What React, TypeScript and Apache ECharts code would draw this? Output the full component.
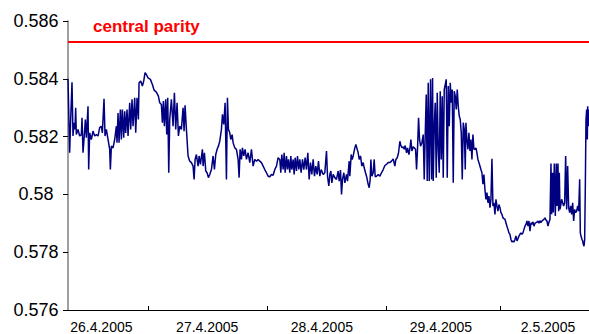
import React, { useEffect, useRef } from "react";
import * as echarts from "echarts";

// x = minutes of trading time since the first quote, y = CYP/EUR rate
const APR26: [number, number][] = [
  [0, 0.584], [20, 0.58144], [32, 0.58259], [48, 0.58388], [60, 0.58202], [72, 0.58248], [84, 0.58225], [92, 0.583], [100, 0.58207], [120, 0.58225], [140, 0.58202], [160, 0.58207], [168, 0.58265], [180, 0.58144], [192, 0.5819], [208, 0.58259], [220, 0.58196], [240, 0.58305], [248, 0.58086], [260, 0.58213], [280, 0.5819], [300, 0.58219], [320, 0.58202], [340, 0.58207], [360, 0.58202], [380, 0.58231], [400, 0.58236], [412, 0.58213], [432, 0.58331], [444, 0.58202], [460, 0.58225], [480, 0.5819], [500, 0.58156], [508, 0.58086], [520, 0.58167], [540, 0.58161], [560, 0.5819], [580, 0.58236], [588, 0.58179], [600, 0.58282], [612, 0.58179], [628, 0.58294], [640, 0.5819], [652, 0.58294], [668, 0.58196], [680, 0.58288], [692, 0.58213], [708, 0.58294], [720, 0.58202], [740, 0.58317], [752, 0.58225], [768, 0.58329], [780, 0.58236], [800, 0.58334], [812, 0.58213], [828, 0.58334], [844, 0.58259], [852, 0.58386], [872, 0.58392], [892, 0.58375], [908, 0.58392], [924, 0.58421], [940, 0.58415], [960, 0.58403],
];
const APR27: [number, number][] = [
  [988, 0.58398], [1012, 0.5838], [1032, 0.58361], [1060, 0.58354], [1084, 0.5834], [1100, 0.58317], [1120, 0.58311], [1132, 0.58248], [1144, 0.58323], [1156, 0.58236], [1172, 0.58329], [1184, 0.58207], [1196, 0.58334], [1208, 0.58075], [1220, 0.58259], [1240, 0.58329], [1260, 0.58236], [1276, 0.58352], [1292, 0.58225], [1308, 0.58317], [1324, 0.58202], [1340, 0.58236], [1360, 0.58225], [1380, 0.583], [1392, 0.58219], [1404, 0.58308], [1420, 0.58225], [1440, 0.58133], [1460, 0.58115], [1480, 0.5811], [1500, 0.58098], [1512, 0.58052], [1524, 0.58121], [1540, 0.58138], [1560, 0.58098], [1572, 0.58133], [1588, 0.58104], [1612, 0.58156], [1620, 0.58098], [1636, 0.58144], [1652, 0.58081], [1668, 0.58075], [1684, 0.58058], [1700, 0.58069], [1720, 0.58086], [1740, 0.58133], [1756, 0.58086], [1772, 0.58138], [1788, 0.58156], [1804, 0.58167], [1820, 0.58184], [1840, 0.58225], [1852, 0.58277], [1868, 0.58242], [1884, 0.58317], [1900, 0.58052], [1912, 0.58334], [1924, 0.58225], [1940, 0.58213], [1952, 0.5819], [1968, 0.58207], [1980, 0.58179], [2000, 0.58161], [2020, 0.58156], [2040, 0.58121], [2052, 0.58058], [2064, 0.58156], [2080, 0.58121], [2092, 0.58161], [2108, 0.58133], [2124, 0.58156], [2140, 0.58121], [2160, 0.58144], [2180, 0.5811], [2200, 0.58156], [2220, 0.58098], [2240, 0.58121], [2260, 0.58115], [2280, 0.58121], [2300, 0.58115], [2320, 0.5811], [2340, 0.58098], [2360, 0.58086], [2380, 0.58075],
];
const APR28: [number, number][] = [
  [2400, 0.58063], [2420, 0.58061], [2440, 0.58069], [2460, 0.58066], [2480, 0.58086], [2500, 0.58098], [2520, 0.58127], [2540, 0.58121], [2552, 0.58075], [2564, 0.58138], [2580, 0.58086], [2592, 0.58144], [2604, 0.58075], [2620, 0.58133], [2632, 0.58086], [2644, 0.58121], [2660, 0.58075], [2672, 0.58133], [2684, 0.58086], [2700, 0.58121], [2712, 0.58069], [2724, 0.58127], [2740, 0.58081], [2752, 0.58133], [2768, 0.58086], [2780, 0.58121], [2796, 0.58075], [2812, 0.58121], [2828, 0.58086], [2844, 0.58127], [2860, 0.58086], [2876, 0.58144], [2892, 0.58052], [2908, 0.5811], [2924, 0.58069], [2940, 0.58121], [2956, 0.58063], [2972, 0.58098], [2988, 0.58069], [3004, 0.58115], [3020, 0.58063], [3036, 0.58086], [3060, 0.58069], [3080, 0.58075], [3100, 0.5815], [3112, 0.58063], [3128, 0.58029], [3140, 0.58069], [3152, 0.58081], [3164, 0.5804], [3180, 0.58069], [3200, 0.58058], [3220, 0.58052], [3240, 0.58081], [3252, 0.58046], [3268, 0.58084], [3280, 0.58], [3292, 0.58052], [3308, 0.58075], [3320, 0.5804], [3340, 0.58069], [3352, 0.58046], [3372, 0.58115], [3380, 0.58063], [3396, 0.58138], [3408, 0.58121], [3420, 0.58133], [3440, 0.58161], [3452, 0.58173], [3468, 0.58156], [3480, 0.58144], [3492, 0.58121], [3508, 0.58133], [3524, 0.58098], [3540, 0.5811], [3552, 0.58092], [3568, 0.58075], [3580, 0.58063], [3600, 0.58035], [3612, 0.58023], [3624, 0.58052], [3632, 0.58121], [3644, 0.58063], [3660, 0.58075], [3672, 0.58121], [3684, 0.58061], [3700, 0.58063], [3720, 0.58069], [3740, 0.58063], [3760, 0.58075], [3780, 0.58086], [3800, 0.581],
];
const APR29: [number, number][] = [
  [3820, 0.58104], [3840, 0.5811], [3860, 0.5811], [3880, 0.58115], [3900, 0.58123], [3920, 0.58098], [3932, 0.58121], [3948, 0.58127], [3964, 0.58144], [3980, 0.58184], [3992, 0.58169], [4008, 0.58161], [4020, 0.58165], [4032, 0.58156], [4044, 0.58169], [4060, 0.58144], [4072, 0.58161], [4088, 0.58138], [4100, 0.58158], [4112, 0.5819], [4124, 0.5815], [4140, 0.58165], [4152, 0.58161], [4168, 0.58156], [4180, 0.58086], [4192, 0.58161], [4204, 0.58265], [4216, 0.5819], [4228, 0.58167], [4244, 0.58179], [4260, 0.58207], [4272, 0.58052], [4284, 0.58207], [4296, 0.58346], [4308, 0.58046], [4320, 0.58386], [4332, 0.58046], [4348, 0.58398], [4360, 0.58052], [4372, 0.58403], [4380, 0.58046], [4392, 0.58236], [4404, 0.58317], [4416, 0.58058], [4428, 0.58352], [4440, 0.58156], [4452, 0.58075], [4464, 0.58357], [4476, 0.58121], [4488, 0.5834], [4500, 0.58058], [4512, 0.58363], [4524, 0.5838], [4536, 0.58398], [4548, 0.58058], [4560, 0.58375], [4572, 0.58236], [4584, 0.58386], [4596, 0.58317], [4608, 0.58363], [4620, 0.5804], [4632, 0.58357], [4644, 0.5834], [4656, 0.58294], [4668, 0.58363], [4680, 0.58305], [4692, 0.58271], [4704, 0.58259], [4716, 0.58213], [4728, 0.58052], [4740, 0.58248], [4752, 0.58225], [4764, 0.58086], [4772, 0.58248], [4784, 0.5819], [4796, 0.58156], [4808, 0.58213], [4820, 0.5815], [4832, 0.5819], [4844, 0.58121], [4856, 0.58207], [4868, 0.58156], [4880, 0.58156], [4892, 0.58161], [4904, 0.58144], [4916, 0.58121], [4928, 0.5811], [4940, 0.58098], [4952, 0.58086], [4964, 0.58075], [4976, 0.58035], [4988, 0.58069], [5000, 0.58017], [5012, 0.57983], [5024, 0.58006], [5036, 0.57971], [5048, 0.57994], [5060, 0.57954], [5072, 0.57983], [5084, 0.58123], [5096, 0.5796], [5108, 0.57971], [5120, 0.57931], [5132, 0.57983], [5144, 0.5796], [5156, 0.57942], [5168, 0.57965], [5180, 0.57954],
];
const MAY2: [number, number][] = [
  [5192, 0.57937], [5204, 0.57931], [5216, 0.57919], [5228, 0.57916], [5240, 0.57914], [5252, 0.57902], [5264, 0.5789], [5276, 0.57879], [5288, 0.57867], [5300, 0.57862], [5312, 0.57844], [5324, 0.57835], [5336, 0.57839], [5348, 0.57835], [5360, 0.57844], [5372, 0.57856], [5384, 0.57839], [5396, 0.57847], [5408, 0.57856], [5420, 0.57862], [5432, 0.57867], [5444, 0.57862], [5456, 0.57867], [5468, 0.57879], [5480, 0.5789], [5492, 0.57896], [5504, 0.57908], [5516, 0.5789], [5528, 0.57908], [5540, 0.57873], [5552, 0.57902], [5564, 0.57896], [5576, 0.57905], [5588, 0.5789], [5600, 0.579], [5612, 0.57902], [5624, 0.57904], [5636, 0.57908], [5648, 0.579], [5660, 0.57909], [5672, 0.57902], [5684, 0.57908], [5696, 0.57911], [5708, 0.57914], [5720, 0.57919], [5732, 0.57911], [5744, 0.57908], [5756, 0.5789], [5768, 0.57904], [5780, 0.57914], [5792, 0.58107], [5800, 0.57931], [5812, 0.58075], [5820, 0.57937], [5832, 0.58107], [5844, 0.57925], [5856, 0.58107], [5864, 0.5796], [5876, 0.58107], [5884, 0.57942], [5892, 0.58075], [5900, 0.57948], [5908, 0.5796], [5920, 0.57983], [5932, 0.57971], [5944, 0.5796], [5956, 0.57971], [5968, 0.58133], [5980, 0.57948], [5992, 0.58098], [6004, 0.57954], [6016, 0.57937], [6028, 0.5796], [6040, 0.57931], [6052, 0.57971], [6064, 0.57908], [6076, 0.57948], [6088, 0.57937], [6100, 0.57942], [6112, 0.5796], [6124, 0.57942], [6136, 0.58052], [6144, 0.57867], [6152, 0.57856], [6164, 0.57844], [6172, 0.57839], [6180, 0.57827], [6188, 0.57821], [6196, 0.57844], [6204, 0.58029], [6212, 0.58259], [6220, 0.58294], [6228, 0.5819], [6232, 0.58305], [6240, 0.58236], [6248, 0.58294],
];

const CENTRAL_PARITY = 0.585274;
const CENTRAL_PARITY_LABEL = "central parity";
const DAY_LABELS = ["26.4.2005", "27.4.2005", "28.4.2005", "29.4.2005", "2.5.2005"];
const DAY_LABEL_AT = [400, 1670, 3044, 4472, 5756];
const DAY_BOUNDARIES = [960, 2388, 3820, 5184];
const SPAN_START = 0;
const SPAN_END = 6248;
const Y_MIN = 0.576;
const Y_MAX = 0.586;
const Y_STEP = 0.002;

export default function App() {
  const ref = useRef<HTMLDivElement>(null);
  useEffect(() => {
    if (!ref.current) return;
    const chart = echarts.init(ref.current, null, { renderer: "svg" });
    const rate = [...APR26, ...APR27, ...APR28, ...APR29, ...MAY2];
    chart.setOption({
      animation: false,
      grid: { left: 68, right: 0, top: 21, bottom: 24, containLabel: false },
      xAxis: {
        type: "value",
        min: SPAN_START,
        max: SPAN_END,
        axisLine: { show: true, lineStyle: { color: "#000", width: 1 } },
        axisTick: {
          show: true,
          inside: true,
          length: 4,
          customValues: DAY_BOUNDARIES,
          lineStyle: { color: "#000" },
        },
        axisLabel: {
          customValues: DAY_LABEL_AT,
          formatter: (v: number) => {
            const i = DAY_LABEL_AT.indexOf(v);
            return i >= 0 ? DAY_LABELS[i] : "";
          },
          fontSize: 14,
          fontFamily: "Arial, 'Liberation Sans', sans-serif",
          color: "#000",
          margin: 10,
        },
        splitLine: { show: false },
      },
      yAxis: {
        type: "value",
        min: Y_MIN,
        max: Y_MAX,
        interval: Y_STEP,
        axisLine: { show: true, lineStyle: { color: "#808080", width: 1.5 } },
        axisTick: { show: true, length: 5, lineStyle: { color: "#000" } },
        axisLabel: {
          fontSize: 18,
          fontFamily: "Arial, 'Liberation Sans', sans-serif",
          color: "#000",
          align: "center",
          margin: 32,
          formatter: (v: number) => String(+v.toFixed(3)),
        },
        splitLine: { show: false },
      },
      series: [
        {
          type: "line",
          data: rate,
          symbol: "none",
          showSymbol: false,
          lineStyle: { color: "#000080", width: 1.5 },
          itemStyle: { color: "#000080" },
        },
        {
          type: "line",
          data: [
            [SPAN_START, CENTRAL_PARITY],
            [SPAN_END, CENTRAL_PARITY],
          ],
          symbol: "none",
          showSymbol: false,
          lineStyle: { color: "#ff0000", width: 2 },
        },
      ],
      graphic: [
        {
          type: "text",
          left: 93,
          top: 18,
          style: {
            text: CENTRAL_PARITY_LABEL,
            fill: "#ff0000",
            font: "bold 17px Arial, 'Liberation Sans', sans-serif",
          },
        },
      ],
    });
    return () => chart.dispose();
  }, []);
  return (
    <div
      ref={ref}
      style={{ position: "fixed", left: 0, top: 0, width: 589, height: 334, background: "#fff" }}
    />
  );
}
